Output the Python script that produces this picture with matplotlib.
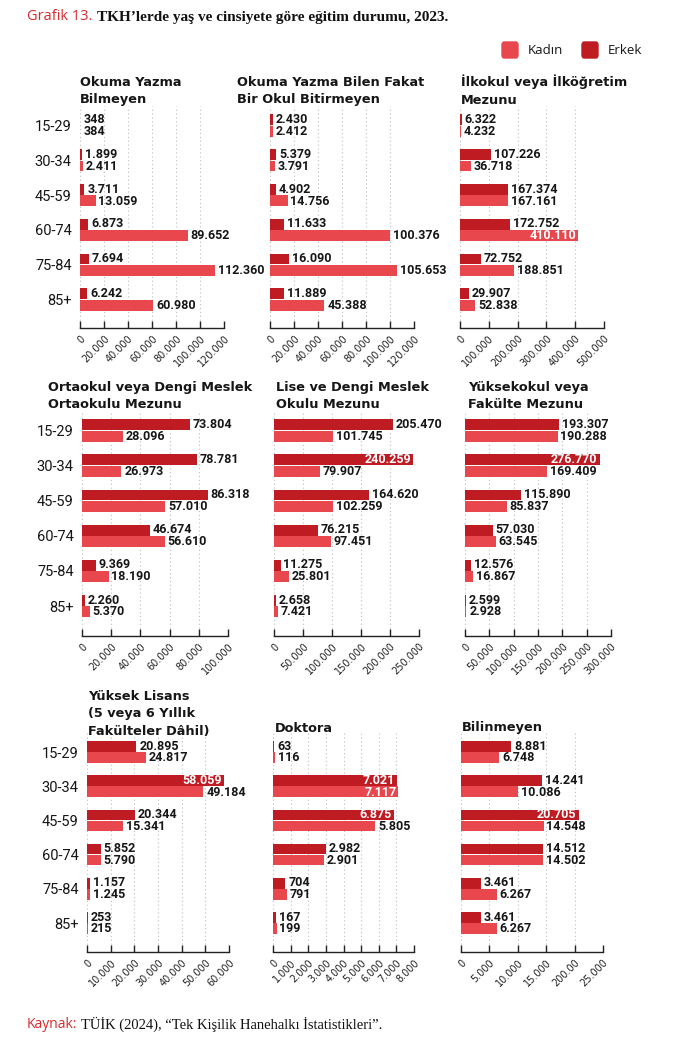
import matplotlib.pyplot as plt
import numpy as np
from matplotlib.patches import FancyBboxPatch

W, H = 674, 1046
ERKEK = '#BE1B22'
KADIN = '#E8474E'
KIRMIZI = '#D62B2E'
YAZI = '#161616'

yaslar = ['15-29', '30-34', '45-59', '60-74', '75-84', '85+']

# degerler: erkek / kadin, yas gruplarina gore
oyb_erkek = [348, 1899, 3711, 6873, 7694, 6242]
oyb_kadin = [384, 2411, 13059, 89652, 112360, 60980]
oybf_erkek = [2430, 5379, 4902, 11633, 16090, 11889]
oybf_kadin = [2412, 3791, 14756, 100376, 105653, 45388]
ilk_erkek = [6322, 107226, 167374, 172752, 72752, 29907]
ilk_kadin = [4232, 36718, 167161, 410110, 188851, 52838]
orta_erkek = [73804, 78781, 86318, 46674, 9369, 2260]
orta_kadin = [28096, 26973, 57010, 56610, 18190, 5370]
lise_erkek = [205470, 240259, 164620, 76215, 11275, 2658]
lise_kadin = [101745, 79907, 102259, 97451, 25801, 7421]
yuksek_erkek = [193307, 276770, 115890, 57030, 12576, 2599]
yuksek_kadin = [190288, 169409, 85837, 63545, 16867, 2928]
yl_erkek = [20895, 58059, 20344, 5852, 1157, 253]
yl_kadin = [24817, 49184, 15341, 5790, 1245, 215]
dr_erkek = [63, 7021, 6875, 2982, 704, 167]
dr_kadin = [116, 7117, 5805, 2901, 791, 199]
bil_erkek = [8881, 14241, 20705, 14512, 3461, 3461]
bil_kadin = [6748, 10086, 14548, 14502, 6267, 6267]

basliklar = [
    ['Okuma Yazma', 'Bilmeyen'],
    ['Okuma Yazma Bilen Fakat', 'Bir Okul Bitirmeyen'],
    ['İlkokul veya İlköğretim', 'Mezunu'],
    ['Ortaokul veya Dengi Meslek', 'Ortaokulu Mezunu'],
    ['Lise ve Dengi Meslek', 'Okulu Mezunu'],
    ['Yüksekokul veya', 'Fakülte Mezunu'],
    ['Yüksek Lisans', '(5 veya 6 Yıllık', 'Fakülteler Dâhil)'],
    ['Doktora'],
    ['Bilinmeyen'],
]
eksen_max = [120000, 120000, 500000, 100000, 250000, 300000, 60000, 8000, 25000]
eksen_adim = [20000, 20000, 100000, 20000, 50000, 50000, 10000, 1000, 5000]
bil_tick_etiket = ['0', '5.000', '10.000', '15.000', '200.00', '25.000']
# beyaz, cubuk icinde yazilan etiketler: (panel, cinsiyet, yas)
icerde = {(2, 'k', 3), (4, 'e', 1), (5, 'e', 1), (6, 'e', 1),
          (7, 'e', 1), (7, 'k', 1), (7, 'e', 2), (8, 'e', 2)}

veriler = [(oyb_erkek, oyb_kadin), (oybf_erkek, oybf_kadin), (ilk_erkek, ilk_kadin),
           (orta_erkek, orta_kadin), (lise_erkek, lise_kadin), (yuksek_erkek, yuksek_kadin),
           (yl_erkek, yl_kadin), (dr_erkek, dr_kadin), (bil_erkek, bil_kadin)]

# yerlesim (piksel)
sutunlar = [[(80, 224), (270, 414), (460, 604)],
            [(82, 228), (274, 419), (465, 611)],
            [(87, 229), (273, 414), (461, 603)]]
satirlar = [(125.5, 34.8, 328), (430.5, 35.1, 636), (752, 34.2, 952)]
baslik_x = [[80, 237, 461], [48, 276, 468], [88, 275, 462]]
baslik_y = [[82, 100], [387, 405], [697, 714, 731]]


def nokta(v):
    return f'{v:,}'.replace(',', '.')


fig = plt.figure(figsize=(W / 100, H / 100), dpi=100)

for p, (erkek, kadin) in enumerate(veriler):
    r, c = divmod(p, 3)
    x0, x1 = sutunlar[r][c]
    c0, s, alt = satirlar[r]
    ust = c0 - 0.55 * s
    ax = fig.add_axes([x0 / W, 1 - alt / H, (x1 - x0) / W, (alt - ust) / H])
    y = np.arange(len(yaslar))
    ax.barh(y - 0.163, erkek, height=0.31, color=ERKEK, zorder=2)
    ax.barh(y + 0.163, kadin, height=0.31, color=KADIN, zorder=2)
    for cins, seri, yy in (('e', erkek, y - 0.17), ('k', kadin, y + 0.17)):
        for i, v in enumerate(seri):
            if (p, cins, i) in icerde:
                ax.annotate(nokta(v), (v, yy[i]), xytext=(-1.5, 0), textcoords='offset points',
                            ha='right', va='center', color='white', fontsize=9,
                            fontweight='bold', family='Roboto', zorder=3)
            else:
                ax.annotate(nokta(v), (v, yy[i]), xytext=(2, 0), textcoords='offset points',
                            ha='left', va='center', color=YAZI, fontsize=9,
                            fontweight='bold', family='Roboto', zorder=3)
    ax.set_ylim((alt - c0) / s, -0.55)
    ax.set_xlim(0, eksen_max[p])
    ticks = np.arange(0, eksen_max[p] + 1, eksen_adim[p])
    ax.set_xticks(ticks)
    if p == 8:
        etiketler = bil_tick_etiket
    else:
        etiketler = [nokta(int(t)) for t in ticks]
    ax.set_xticklabels(etiketler, rotation=45, ha='right', rotation_mode='anchor',
                       fontsize=7, family='DejaVu Sans', color='#222222')
    ax.tick_params(axis='x', direction='in', length=5, width=1, color='#222222', pad=4)
    if c == 0:
        ax.set_yticks(y)
        ax.set_yticklabels(yaslar, fontsize=10.5, family='Roboto', color=YAZI)
        ax.tick_params(axis='y', length=0, pad=6)
    else:
        ax.set_yticks([])
    for sp in ('left', 'top', 'right'):
        ax.spines[sp].set_visible(False)
    ax.spines['bottom'].set_color('#222222')
    ax.spines['bottom'].set_linewidth(1)
    ax.grid(axis='x', linestyle=(0, (1, 2.5)), color='#bdbdbd', linewidth=0.8, zorder=0)
    ax.set_axisbelow(True)

    satir_y = baslik_y[r]
    if len(basliklar[p]) == 1:
        satir_y = [728]
    for metin, ty in zip(basliklar[p], satir_y):
        fig.text(baslik_x[r][c] / W, 1 - ty / H, metin, ha='left', va='center',
                 fontsize=9.3, fontweight='bold', family='DejaVu Sans', color=YAZI)

# ust baslik
fig.text(27 / W, 1 - 17 / H, 'Grafik 13.', ha='left', va='center',
         fontsize=10.5, family='Open Sans', color=KIRMIZI)
fig.text(97 / W, 1 - 17 / H, 'TKH’lerde yaş ve cinsiyete göre eğitim durumu, 2023.',
         ha='left', va='center', fontsize=11, fontweight='bold',
         family='Liberation Serif', color='#111111')

# lejant
for x, renk, ad in ((502, KADIN, 'Kadın'), (582, ERKEK, 'Erkek')):
    fig.patches.append(FancyBboxPatch((x / W, 1 - 58 / H), 16 / W, 16 / H,
                                      boxstyle='round,pad=0,rounding_size=0.003',
                                      transform=fig.transFigure, color=renk, figure=fig))
    fig.text((x + 26) / W, 1 - 50 / H, ad, ha='left', va='center',
             fontsize=9.5, family='Open Sans', color=YAZI)

# kaynak
fig.text(27 / W, 1 - 1024 / H, 'Kaynak:', ha='left', va='center',
         fontsize=10, family='Open Sans', color=KIRMIZI)
fig.text(81 / W, 1 - 1024 / H, 'TÜİK (2024), “Tek Kişilik Hanehalkı İstatistikleri”.',
         ha='left', va='center', fontsize=10.5, family='Liberation Serif', color='#111111')

fig.savefig('out.png', dpi=100)
